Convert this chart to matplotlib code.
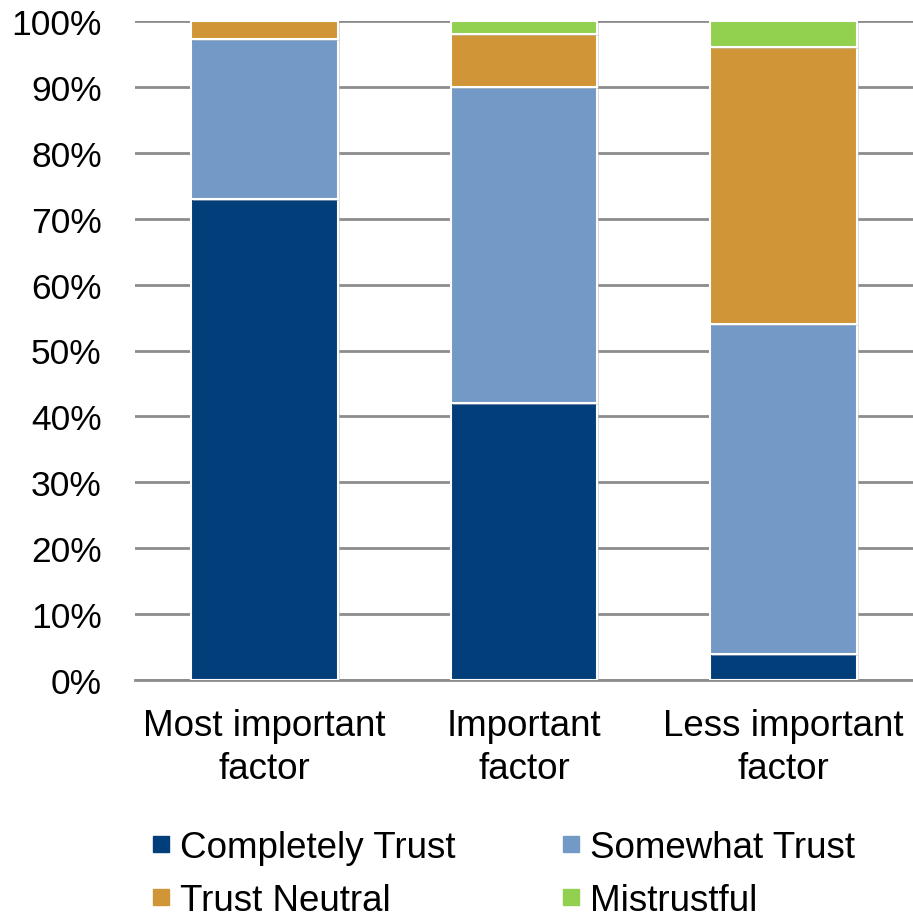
import numpy as np
import matplotlib.pyplot as plt
from matplotlib.lines import Line2D
from matplotlib import patheffects as pe
from matplotlib.ticker import FuncFormatter

plt.rcParams['font.family'] = ['Liberation Sans', 'DejaVu Sans']

# Share of respondents (%) by importance level
categories = ["Most important\nfactor", "Important\nfactor", "Less important\nfactor"]
completely_trust = [73, 42, 4]
somewhat_trust = [24.3, 48, 50]
trust_neutral = [2.7, 8, 42]
mistrustful = [0, 2, 4]

series = ["Completely Trust", "Somewhat Trust", "Trust Neutral", "Mistrustful"]
colors = ["#023E7A", "#7399C6", "#D09536", "#92D050"]

fig = plt.figure(figsize=(9.13, 9.2), dpi=100)
ax = fig.add_axes([135 / 913, 239 / 920, 778 / 913, 659 / 920])

x = np.arange(len(categories))
bottom = np.zeros(len(categories))
shadow = [pe.SimplePatchShadow(offset=(1.5, -1.5), shadow_rgbFace="#bbbbbb", alpha=0.5), pe.Normal()]
for vals, col, name in zip([completely_trust, somewhat_trust, trust_neutral, mistrustful], colors, series):
    vals = np.array(vals, dtype=float)
    bars = ax.bar(x, vals, bottom=bottom, width=0.566, color=col, edgecolor="white",
                  linewidth=1.5, zorder=3, label=name)
    for b in bars:
        b.set_path_effects(shadow)
    bottom += vals

ax.set_xlim(-0.5, 2.5)
ax.set_ylim(0, 100)
ax.set_yticks(np.arange(0, 101, 10))
ax.yaxis.set_major_formatter(FuncFormatter(lambda v, p: f"{int(v)}%"))
ax.yaxis.grid(True, color="#8c8c8c", linewidth=2, zorder=0)
ax.set_axisbelow(True)

for s in ["left", "right", "top"]:
    ax.spines[s].set_visible(False)
ax.spines["bottom"].set_color("#8c8c8c")
ax.spines["bottom"].set_linewidth(2)

ax.set_xticks(x)
ax.set_xticklabels(categories, fontsize=26.5, linespacing=1.3)
ax.tick_params(axis="x", length=0, pad=20)
ax.tick_params(axis="y", length=0, pad=24, labelsize=25.5)

# legend: two columns, filled column-wise
handles = [Line2D([], [], marker="s", linestyle="none", markersize=11.5,
                  markerfacecolor=c, markeredgecolor=c) for c in colors]
order = [0, 2, 1, 3]
fig.legend([handles[i] for i in order], [series[i] for i in order],
           loc="lower left", bbox_to_anchor=(136 / 913, -14 / 920), ncol=2, frameon=False,
           fontsize=26.5, handlelength=0.55, handletextpad=0.25, columnspacing=2.85,
           labelspacing=0.5, borderaxespad=0)

fig.savefig("out.png", dpi=100)
